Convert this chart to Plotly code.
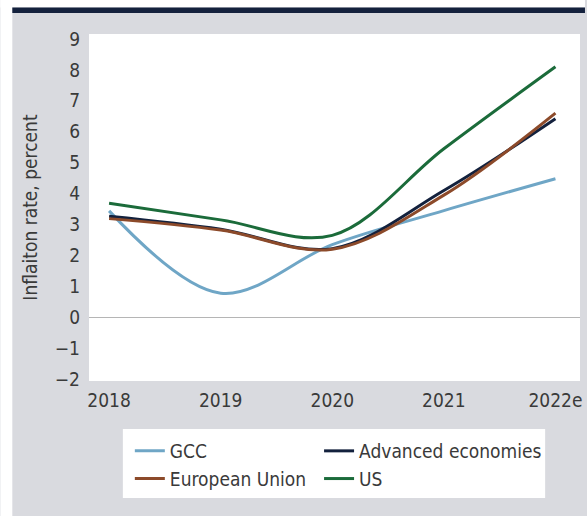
import plotly.graph_objects as go

# Inflation rates, percent
years = ["2018", "2019", "2020", "2021", "2022e"]
gcc = [3.44, 0.78, 2.35, 3.45, 4.48]
advanced = [3.27, 2.85, 2.22, 4.10, 6.42]
eu = [3.19, 2.82, 2.20, 3.95, 6.60]
us = [3.69, 3.15, 2.65, 5.45, 8.10]

y_ticks = list(range(-2, 10))
y_tick_text = [("\u2212" + str(-v)) if v < 0 else str(v) for v in y_ticks]

# (name, values, colour, legend column)
series = [
    ("GCC", gcc, "#6fa6c6", "legend"),
    ("Advanced economies", advanced, "#13213d", "legend2"),
    ("European Union", eu, "#8c4a2a", "legend"),
    ("US", us, "#1b6b3a", "legend2"),
]

W, H = 587, 516
ML, MR, MT, MB = 89, 5, 34, 135
PW, PH = W - ML - MR, H - MT - MB

def px_x(p):
    return (p - ML) / PW

def px_y(p):
    return (H - MB - p) / PH

FONT = "DejaVu Sans Condensed, Liberation Sans Narrow, sans-serif"
FS = 19
TXT = "#3a3a3a"
PANEL = "#d9dadf"

fig = go.Figure()
for name, vals, color, leg in series:
    fig.add_trace(go.Scatter(
        x=list(range(len(years))), y=vals, name=name, mode="lines",
        legend=leg,
        line=dict(color=color, width=3, shape="spline", smoothing=1.0),
    ))

shapes = [
    # white margin strips and the navy header rule
    dict(type="rect", xref="paper", yref="paper", layer="below",
         x0=px_x(0), x1=px_x(12), y0=px_y(H), y1=px_y(0),
         fillcolor="white", line_width=0),
    dict(type="rect", xref="paper", yref="paper", layer="below",
         x0=px_x(0), x1=px_x(W), y0=px_y(7.5), y1=px_y(0),
         fillcolor="white", line_width=0),
    dict(type="rect", xref="paper", yref="paper", layer="below",
         x0=px_x(12), x1=px_x(W), y0=px_y(13), y1=px_y(7.5),
         fillcolor="#14213d", line_width=0),
    # legend panel
    dict(type="rect", xref="paper", yref="paper", layer="below",
         x0=px_x(123), x1=px_x(547), y0=px_y(498), y1=px_y(429),
         fillcolor="white", line_width=0),
]

legend_common = dict(
    orientation="v", xanchor="left", yanchor="top",
    bgcolor="rgba(0,0,0,0)", tracegroupgap=0,
    font=dict(family=FONT, size=FS, color=TXT),
)

fig.update_layout(
    width=W, height=H,
    margin=dict(l=ML, r=MR, t=MT, b=MB),
    paper_bgcolor=PANEL,
    plot_bgcolor="white",
    font=dict(family=FONT, size=FS, color=TXT),
    shapes=shapes,
    showlegend=True,
    legend=dict(x=px_x(130), y=px_y(432), **legend_common),
    legend2=dict(x=px_x(320), y=px_y(432), **legend_common),
    xaxis=dict(
        range=[-0.18, 4.22], tickmode="array", tickvals=list(range(len(years))),
        ticktext=years, showgrid=False, zeroline=False, showline=False,
        ticks="", tickfont=dict(size=FS, color=TXT), ticklabelstandoff=6,
        fixedrange=True,
    ),
    yaxis=dict(
        range=[-2.06, 9.16], tickmode="array", tickvals=y_ticks, ticktext=y_tick_text,
        showgrid=False, zeroline=True, zerolinecolor="#b5b5b5", zerolinewidth=1,
        showline=False, ticks="", tickfont=dict(size=FS, color=TXT),
        ticklabelstandoff=8,
        title=dict(text="Inflaiton rate, percent", font=dict(size=FS, color=TXT), standoff=12),
        automargin=False, fixedrange=True,
    ),
)

fig.write_html("out.html")
